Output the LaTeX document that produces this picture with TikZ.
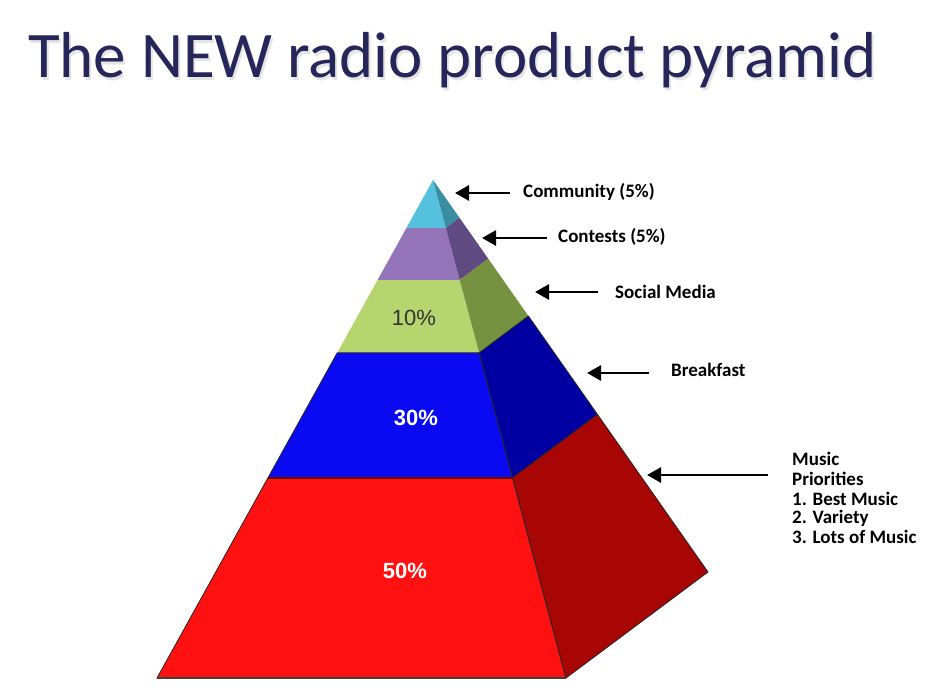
\documentclass[tikz,border=0pt]{standalone}
\usepackage{fontspec}
\setmainfont{Carlito}
\newfontfamily\arialfont{Liberation Sans}
\newfontfamily\ghostfont{Liberation Serif}
\newfontfamily\cjk{Noto Sans CJK SC}
\usetikzlibrary{arrows.meta,calc}
\definecolor{cyanF}{RGB}{86,193,222}
\definecolor{cyanS}{RGB}{58,142,162}
\definecolor{purpleF}{RGB}{148,117,185}
\definecolor{purpleS}{RGB}{95,74,129}
\definecolor{greenF}{RGB}{182,213,111}
\definecolor{greenS}{RGB}{118,145,63}
\definecolor{blueF}{RGB}{10,10,242}
\definecolor{blueS}{RGB}{0,0,162}
\definecolor{redF}{RGB}{255,17,17}
\definecolor{redS}{RGB}{168,5,5}
\definecolor{titleC}{RGB}{38,38,90}
\definecolor{pctdark}{RGB}{51,51,51}
\definecolor{bgedge}{RGB}{232,232,232}
\pgfdeclareradialshading{slidebg}{\pgfpoint{0bp}{0bp}}{color(0bp)=(white); color(38bp)=(white); color(71bp)=(bgedge)}
\begin{document}
\begin{tikzpicture}[x=1pt,y=-1pt,
  arr/.style={line width=2.8pt,-{Triangle[length=14pt,width=15pt]}},
  lbl/.style={font=\bfseries\fontsize{19}{20}\selectfont,anchor=base west,inner sep=0pt},
  pct/.style={font=\arialfont\fontsize{22}{24}\selectfont,inner sep=0pt},
  ghost/.style={font=\ghostfont\fontsize{18}{20}\selectfont,text=white,anchor=base west,inner sep=0pt},
  edge/.style={draw=black!85,line width=0.8pt,line join=round}
]
\useasboundingbox (0,0) rectangle (931,689);
\shade[shading=slidebg] (0,0) rectangle (931,689);

% title
\node[anchor=base west,inner sep=0pt,text=black!40,opacity=0.25,font=\fontsize{65}{70}\selectfont] (titleshadow) at (30,80) {The NEW radio product pyramid};
\node[anchor=base west,inner sep=0pt,text=titleC,font=\fontsize{65}{70}\selectfont] (title) at (28,77) {The NEW radio product pyramid};

% pyramid
\coordinate (A) at (433,180);
\coordinate (FL) at (157,678);
\coordinate (FR) at (566,678);
\coordinate (BK) at (708,572);

\foreach \ta/\tb/\cf/\cs in {0/0.0964/cyanF/cyanS,0.0964/0.2008/purpleF/purpleS,0.2008/0.347/greenF/greenS}{
  \fill[\cf] ($(A)!\ta!(FL)$) -- ($(A)!\ta!(FR)$) -- ($(A)!\tb!(FR)$) -- ($(A)!\tb!(FL)$) -- cycle;
  \fill[\cs] ($(A)!\ta!(FR)$) -- ($(A)!\ta!(BK)$) -- ($(A)!\tb!(BK)$) -- ($(A)!\tb!(FR)$) -- cycle;
}
\foreach \ta/\tb/\cf/\cs in {0.347/0.598/blueF/blueS,0.598/1/redF/redS}{
  \filldraw[fill=\cf,edge] ($(A)!\ta!(FL)$) -- ($(A)!\ta!(FR)$) -- ($(A)!\tb!(FR)$) -- ($(A)!\tb!(FL)$) -- cycle;
  \filldraw[fill=\cs,edge] ($(A)!\ta!(FR)$) -- ($(A)!\ta!(BK)$) -- ($(A)!\tb!(BK)$) -- ($(A)!\tb!(FR)$) -- cycle;
}
\draw[line width=1.6pt,draw=red!40!black] ($(A)!0.598!(FL)$) -- ($(A)!0.598!(FR)$);
\draw[line width=2.6pt,draw=black!75] (FL) -- (FR);

% percentages
\node[pct,text=pctdark] (p10) at (414,318) {10\%};
\node[pct,text=white,font=\arialfont\bfseries\fontsize{22}{24}\selectfont] (p30) at (416,418) {30\%};
\node[pct,text=white,font=\arialfont\bfseries\fontsize{22}{24}\selectfont] (p50) at (405,571) {50\%};

% labels and arrows
\node[lbl] (community) at (523,197) {Community (5\%)};
\node[lbl] (contests) at (558,242) {Contests (5\%)};
\node[lbl] (social) at (615,298) {Social Media};
\node[lbl] (breakfast) at (671,376) {Breakfast};
\node[lbl] (music1) at (792,465) {Music};
\node[lbl] (music2) at (792,485) {Priorities};
\node[lbl] (music3) at (792,505) {1. Best Music};
\node[lbl] (music4) at (792,523) {2. Variety};
\node[lbl] (music5) at (792,543) {3. Lots of Music};

\coordinate (t1) at (510,193); \coordinate (h1) at (455,193);
\coordinate (t2) at (547,238); \coordinate (h2) at (482,238);
\coordinate (t3) at (598,292); \coordinate (h3) at (535,292);
\coordinate (t4) at (649,373); \coordinate (h4) at (587,373);
\coordinate (t5) at (768,475); \coordinate (h5) at (647,475);
\draw[arr] (t1) -- (h1);
\draw[arr] (t2) -- (h2);
\draw[arr] (t3) -- (h3);
\draw[arr] (t4) -- (h4);
\draw[arr] (t5) -- (h5);

% faint ghost text
\begin{scope}
\clip (0,0) rectangle (931,689);
\node[ghost,opacity=0.7] (g0) at (838,465) {Mu};
\node[ghost,opacity=0.7] (g1) at (792,574) {sic {\cjk 音乐类节目}};
\node[ghost,opacity=0.7] (g2) at (792,595) {Priorities:};
\node[ghost,opacity=0.7,font=\cjk\fontsize{16}{18}\selectfont] (g3) at (792,615) {优先考虑因素：};
\node[ghost,opacity=0.7] (g4) at (792,635) {1. Best music};
\node[ghost,opacity=0.7,font=\cjk\fontsize{18}{20}\selectfont] (g5) at (810,655) {最好的音乐};
\node[ghost,opacity=0.7] (g6) at (792,675) {2. Variety};
\node[ghost,opacity=0.7,font=\cjk\fontsize{18}{20}\selectfont] (g7) at (810,697) {音乐的多样化};
\end{scope}
\end{tikzpicture}
\end{document}
